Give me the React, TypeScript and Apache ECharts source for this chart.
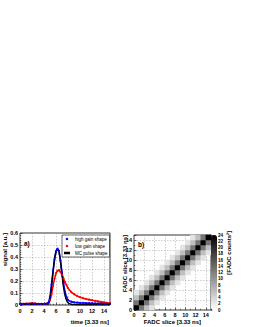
import React, { useEffect, useRef } from "react";
import * as echarts from "echarts";

// ---- panel a) pulse shapes ----
const timeSlices = [0, 0.5, 1, 1.5, 2, 2.5, 3, 3.5, 4, 4.5, 4.75, 5, 5.25, 5.5, 5.75, 6, 6.25, 6.5, 6.75, 7, 7.25, 7.5, 7.75, 8, 8.5, 9, 9.5, 10, 10.5, 11, 11.5, 12, 12.5, 13, 13.5, 14, 14.5, 15];
const highGainShape = [0.01, 0.01, 0.01, 0.01, 0.012, 0.01, 0.01, 0.01, 0.01, 0.012, 0.02, 0.07, 0.17, 0.28, 0.38, 0.45, 0.47, 0.45, 0.37, 0.27, 0.18, 0.11, 0.065, 0.04, 0.028, 0.022, 0.02, 0.018, 0.017, 0.016, 0.015, 0.014, 0.013, 0.012, 0.012, 0.011, 0.011, 0.01];
const lowGainShape = [0.01, 0.01, 0.012, 0.012, 0.016, 0.013, 0.01, 0.01, 0.01, 0.012, 0.018, 0.04, 0.09, 0.16, 0.22, 0.265, 0.285, 0.29, 0.275, 0.25, 0.22, 0.19, 0.165, 0.14, 0.11, 0.09, 0.076, 0.065, 0.057, 0.05, 0.045, 0.04, 0.035, 0.03, 0.026, 0.022, 0.018, 0.015];
const mcPulseShape = [0.005, 0.005, 0.005, 0.005, 0.005, 0.005, 0.005, 0.005, 0.005, 0.005, 0.01, 0.05, 0.15, 0.27, 0.38, 0.44, 0.46, 0.44, 0.36, 0.25, 0.15, 0.08, 0.04, 0.018, 0.006, 0.003, 0.002, 0.002, 0.002, 0.002, 0.002, 0.002, 0.002, 0.002, 0.002, 0.002, 0.002, 0.002];
const signalTicks = [0, 0.1, 0.2, 0.3, 0.4, 0.5, 0.6];

// ---- panel b) FADC slice correlation ----
const fadcSlices = ["0", "1", "2", "3", "4", "5", "6", "7", "8", "9", "10", "11", "12", "13", "14"];
const fadcCounts = [
  [24, 13, 6, 2.5, 0, 0, 0, 0, 0, 0, 0, 0, 0, 0, 0],
  [13, 24, 13, 6, 2.5, 0, 0, 0, 0, 0, 0, 0, 0, 0, 0],
  [6, 13, 24, 13, 6, 2.5, 0, 0, 0, 0, 0, 0, 0, 0, 0],
  [2.5, 6, 13, 24, 13, 6, 2.5, 0, 0, 0, 0, 0, 0, 0, 0],
  [0, 2.5, 6, 13, 24, 13, 6, 2.5, 0, 0, 0, 0, 0, 0, 0],
  [0, 0, 2.5, 6, 13, 24, 13, 6, 2.5, 0, 0, 0, 0, 0, 0],
  [0, 0, 0, 2.5, 6, 13, 24, 13, 6, 2.5, 0, 0, 0, 0, 0],
  [0, 0, 0, 0, 2.5, 6, 13, 24, 13, 6, 2.5, 0, 0, 0, 0],
  [0, 0, 0, 0, 0, 2.5, 6, 13, 24, 13, 6, 2.5, 0, 0, 0],
  [0, 0, 0, 0, 0, 0, 2.5, 6, 13, 24, 13, 6, 2.5, 0, 0],
  [0, 0, 0, 0, 0, 0, 0, 2.5, 6, 13, 24, 13, 6, 2.5, 0],
  [0, 0, 0, 0, 0, 0, 0, 0, 2.5, 6, 13, 24, 13, 6, 2.5],
  [0, 0, 0, 0, 0, 0, 0, 0, 0, 2.5, 6, 13, 24, 13, 6],
  [0, 0, 0, 0, 0, 0, 0, 0, 0, 0, 2.5, 6, 13, 24, 13],
  [0, 0, 0, 0, 0, 0, 0, 0, 0, 0, 0, 2.5, 6, 13, 24],
];
const colorScaleMax = 24;

const FONT = "Liberation Sans, Arial, Helvetica, sans-serif";

export default function App() {
  const ref = useRef<HTMLDivElement>(null);
  useEffect(() => {
    if (!ref.current) return;
    const chart = echarts.init(ref.current, undefined, { renderer: "svg" });

    const pairs = (ys: number[]) => timeSlices.map((t, i) => [t, ys[i]]);
    const heat: number[][] = [];
    fadcCounts.forEach((row, y) =>
      row.forEach((v, x) => {
        if (v > 0) heat.push([x, y, v]);
      })
    );

    const tickLabel = { fontSize: 5.5, fontWeight: "bold" as const, color: "#000", fontFamily: FONT };
    const split = { show: true, lineStyle: { type: [1.5, 1.5] as any, color: "#999", width: 0.5 } };
    const tick = { show: true, inside: true, length: 2.5, lineStyle: { color: "#000", width: 0.6 } };
    const minor = { show: true, length: 1.3, lineStyle: { color: "#000", width: 0.5 } };
    const evenOnly = (v: number) => (v % 2 === 0 ? String(v) : "");

    const txt = (text: string, x: number, y: number, align: string, rot: number, size = 6) => ({
      type: "text",
      x,
      y,
      rotation: rot,
      style: {
        text,
        align,
        verticalAlign: "middle",
        fontSize: size,
        fontWeight: "bold",
        fontFamily: FONT,
        fill: "#000",
      },
    });

    chart.setOption({
      animation: false,
      backgroundColor: "#fff",
      textStyle: { fontFamily: FONT },
      grid: [
        { left: 20, top: 233, width: 90, height: 72, show: true, borderColor: "#000", borderWidth: 0.8 },
        { left: 134, top: 235, width: 77, height: 75, show: true, borderColor: "#000", borderWidth: 0.8 },
        { left: 211, top: 235, width: 6, height: 75 },
      ],
      xAxis: [
        {
          gridIndex: 0, type: "value", min: 0, max: 15, interval: 2, position: "bottom",
          axisLine: { show: false }, axisTick: tick, minorTick: { ...minor, splitNumber: 4 },
          splitLine: split, axisLabel: { ...tickLabel, margin: 3, formatter: evenOnly },
        },
        { gridIndex: 1, type: "category", data: fadcSlices, position: "top", show: false },
        {
          gridIndex: 1, type: "value", min: 0, max: 15, interval: 2, position: "bottom",
          axisLine: { show: false }, axisTick: tick, minorTick: { ...minor, splitNumber: 2 },
          splitLine: split, axisLabel: { ...tickLabel, margin: 2, formatter: evenOnly },
        },
        { gridIndex: 2, type: "value", min: 0, max: 1, show: false },
      ],
      yAxis: [
        {
          gridIndex: 0, type: "value", min: signalTicks[0], max: signalTicks[signalTicks.length - 1], interval: 0.1, position: "left",
          axisLine: { show: false }, axisTick: tick, minorTick: { ...minor, splitNumber: 5 },
          splitLine: split, axisLabel: { ...tickLabel, margin: 2 },
        },
        { gridIndex: 1, type: "category", data: fadcSlices, position: "right", show: false },
        {
          gridIndex: 1, type: "value", min: 0, max: 15, interval: 2, position: "left",
          axisLine: { show: false }, axisTick: tick, minorTick: { ...minor, splitNumber: 2 },
          splitLine: split, axisLabel: { ...tickLabel, margin: 2, formatter: evenOnly },
        },
        {
          gridIndex: 2, type: "value", min: 0, max: colorScaleMax, interval: 2, position: "right",
          axisLine: { show: true, lineStyle: { color: "#000", width: 0.5 } },
          axisTick: { show: true, length: 1.5, lineStyle: { color: "#000", width: 0.5 } },
          splitLine: { show: false },
          axisLabel: { ...tickLabel, fontSize: 4.5, margin: 1 },
        },
      ],
      legend: {
        data: [
          { name: "high gain shape", icon: "circle" },
          { name: "low gain shape", icon: "circle" },
          { name: "MC pulse shape", icon: "rect" },
        ],
        orient: "vertical",
        left: 62,
        top: 235,
        padding: [1.5, 2, 1.5, 2],
        itemGap: 2,
        itemWidth: 6,
        itemHeight: 2.5,
        borderColor: "#000",
        borderWidth: 0.6,
        borderRadius: 0,
        backgroundColor: "#fff",
        textStyle: { fontSize: 4.5, color: "#000", fontFamily: FONT },
      },
      visualMap: {
        type: "continuous",
        min: 0,
        max: colorScaleMax,
        seriesIndex: 3,
        calculable: false,
        show: true,
        orient: "vertical",
        left: 211,
        top: 235,
        itemWidth: 6,
        itemHeight: 75,
        padding: 0,
        inRange: { color: ["#ffffff", "#000000"] },
      },
      series: [
        {
          name: "low gain shape", type: "line", xAxisIndex: 0, yAxisIndex: 0,
          data: pairs(lowGainShape), symbol: "circle", symbolSize: 2, showAllSymbol: true,
          lineStyle: { color: "#ff0000", width: 1.6 }, itemStyle: { color: "#ff0000" },
        },
        {
          name: "high gain shape", type: "line", xAxisIndex: 0, yAxisIndex: 0,
          data: pairs(highGainShape), symbol: "circle", symbolSize: 2, showAllSymbol: true,
          lineStyle: { color: "#0000ff", width: 1.6 }, itemStyle: { color: "#0000ff" },
        },
        {
          name: "MC pulse shape", type: "line", xAxisIndex: 0, yAxisIndex: 0,
          data: pairs(mcPulseShape), symbol: "none", smooth: 0.3,
          lineStyle: { color: "#000", width: 1.4 }, itemStyle: { color: "#000" },
        },
        {
          name: "fadc", type: "heatmap", xAxisIndex: 1, yAxisIndex: 1, data: heat,
        },
      ],
      graphic: [
        txt("signal [a.u.]", 5, 233, "right", Math.PI / 2),
        txt("time [3.33 ns]", 109, 321.5, "right", 0),
        txt("a)", 24, 243, "left", 0, 6.5),
        txt("FADC slice [3.33 ns]", 124.5, 235, "right", Math.PI / 2),
        txt("FADC slice [3.33 ns]", 201, 321.5, "right", 0),
        txt("b)", 138, 244, "left", 0, 6.5),
        txt("[FADC counts²]", 228.5, 231, "right", Math.PI / 2),
      ],
    });
    return () => chart.dispose();
  }, []);
  return (
    <div
      ref={ref}
      style={{ position: "absolute", left: 0, top: 0, width: 253, height: 327 }}
    />
  );
}
